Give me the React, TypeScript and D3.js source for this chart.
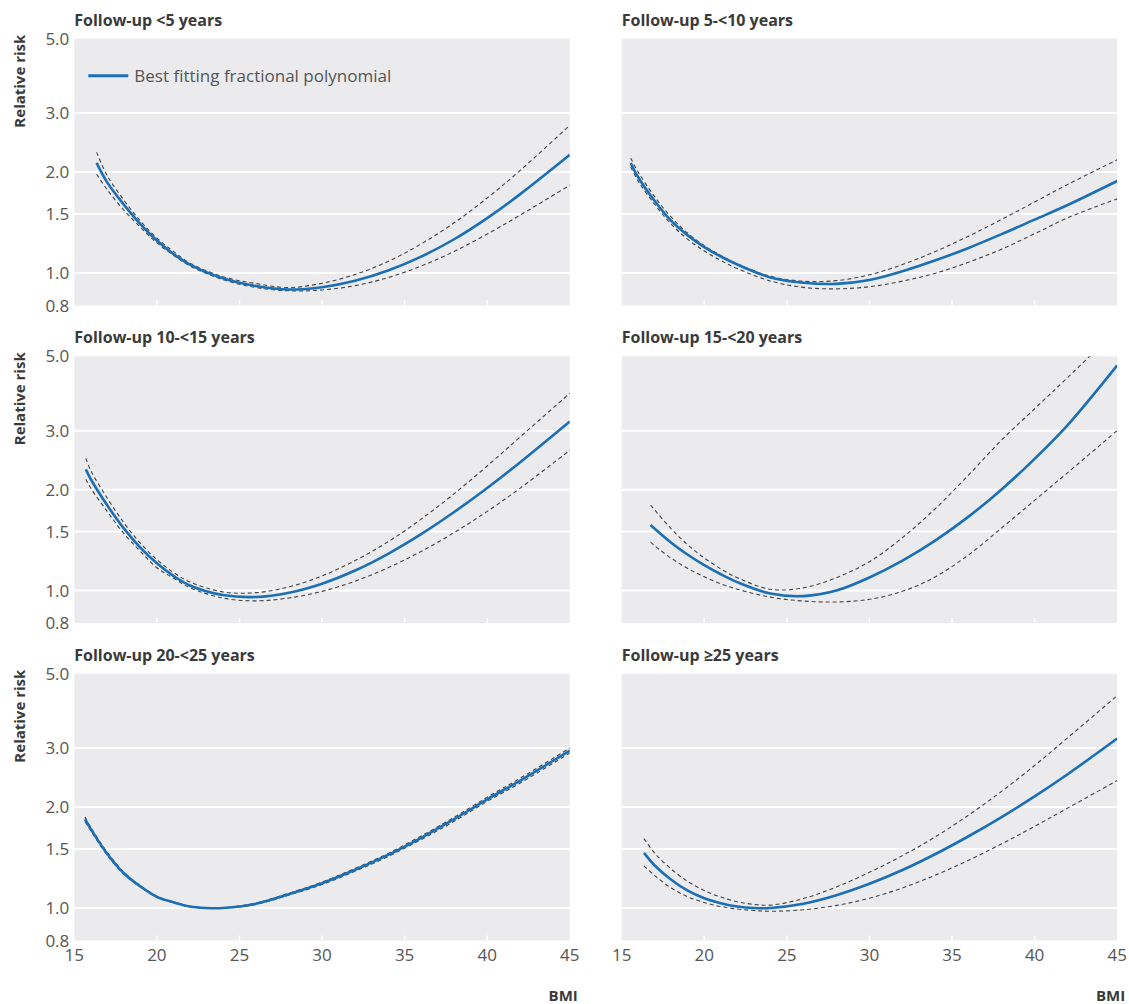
import React from "react";
import * as d3 from "d3";

// BMI grid + relative risk (fit, lower and upper 95% CI) per follow-up panel
const titles = [
  "Follow-up <5 years",
  "Follow-up 5-<10 years",
  "Follow-up 10-<15 years",
  "Follow-up 15-<20 years",
  "Follow-up 20-<25 years",
  "Follow-up ≥25 years",
];

const bmi1 = [16.35, 17, 18, 19, 20, 21, 22, 24, 26, 28, 30, 32, 34, 36, 38, 40, 42, 45];
const fit1 = [2.13, 1.86, 1.6, 1.4, 1.25, 1.14, 1.06, 0.965, 0.915, 0.893, 0.907, 0.948, 1.017, 1.119, 1.261, 1.458, 1.719, 2.252];
const hi1 = [2.29, 1.95, 1.65, 1.43, 1.27, 1.16, 1.07, 0.975, 0.93, 0.905, 0.932, 0.99, 1.083, 1.221, 1.412, 1.674, 2.024, 2.759];
const lo1 = [1.97, 1.77, 1.54, 1.37, 1.23, 1.13, 1.05, 0.955, 0.905, 0.885, 0.89, 0.917, 0.969, 1.049, 1.16, 1.307, 1.489, 1.828];

const bmi2 = [15.55, 16, 17, 18, 19, 20, 21, 22, 24, 26, 28, 30, 32, 34, 36, 38, 40, 42, 45];
const fit2 = [2.13, 1.93, 1.64, 1.43, 1.295, 1.195, 1.12, 1.06, 0.97, 0.935, 0.928, 0.953, 1.012, 1.091, 1.188, 1.306, 1.443, 1.595, 1.881];
const hi2 = [2.2, 2.0, 1.687, 1.467, 1.314, 1.207, 1.128, 1.065, 0.978, 0.945, 0.949, 0.988, 1.06, 1.16, 1.288, 1.445, 1.629, 1.837, 2.177];
const lo2 = [2.07, 1.88, 1.602, 1.399, 1.26, 1.163, 1.09, 1.031, 0.947, 0.906, 0.897, 0.91, 0.946, 0.999, 1.077, 1.178, 1.309, 1.461, 1.664];

const bmi3 = [15.7, 16, 17, 18, 19, 20, 21, 22, 24, 26, 28, 30, 32, 34, 36, 38, 40, 42, 45];
const fit3 = [2.3, 2.149, 1.795, 1.533, 1.343, 1.206, 1.107, 1.036, 0.97, 0.957, 0.986, 1.049, 1.148, 1.288, 1.474, 1.716, 2.024, 2.416, 3.196];
const hi3 = [2.48, 2.28, 1.885, 1.594, 1.385, 1.237, 1.133, 1.061, 0.991, 0.986, 1.026, 1.106, 1.229, 1.399, 1.634, 1.946, 2.354, 2.875, 3.88];
const lo3 = [2.15, 2.02, 1.72, 1.48, 1.31, 1.17, 1.09, 1.02, 0.95, 0.932, 0.951, 0.995, 1.067, 1.17, 1.309, 1.49, 1.723, 2.022, 2.622];

const bmi4 = [16.75, 17, 18, 19, 20, 21, 22, 24, 26, 28, 30, 32, 34, 36, 38, 40, 42, 45];
const fit4 = [1.57, 1.53, 1.39, 1.279, 1.191, 1.119, 1.06, 0.98, 0.963, 1.0, 1.094, 1.228, 1.412, 1.662, 2.004, 2.472, 3.117, 4.697];
const hi4 = [1.8, 1.74, 1.528, 1.369, 1.251, 1.161, 1.093, 1.009, 1.019, 1.093, 1.22, 1.439, 1.758, 2.212, 2.812, 3.487, 4.323, 6.01];
const lo4 = [1.395, 1.36, 1.249, 1.164, 1.099, 1.048, 1.01, 0.956, 0.931, 0.925, 0.942, 0.995, 1.1, 1.278, 1.537, 1.859, 2.248, 3.004];

const bmi5 = [15.65, 16, 17, 18, 19, 20, 21, 22, 23, 24, 26, 28, 30, 32, 34, 36, 38, 40, 42, 45];
const fit5 = [1.84, 1.72, 1.45, 1.27, 1.16, 1.08, 1.04, 1.01, 1.0, 1.0, 1.03, 1.1, 1.185, 1.3, 1.44, 1.62, 1.84, 2.11, 2.4, 2.95];
const hi5 = [1.87, 1.74, 1.465, 1.28, 1.165, 1.085, 1.043, 1.012, 1.001, 1.002, 1.035, 1.107, 1.195, 1.313, 1.455, 1.64, 1.865, 2.14, 2.44, 3.0];
const lo5 = [1.81, 1.7, 1.435, 1.26, 1.155, 1.075, 1.037, 1.008, 0.999, 0.998, 1.025, 1.093, 1.175, 1.287, 1.425, 1.6, 1.815, 2.08, 2.36, 2.9];

const bmi6 = [16.35, 17, 18, 19, 20, 21, 22, 23, 24, 26, 28, 30, 32, 34, 36, 38, 40, 42, 45];
const fit6 = [1.46, 1.339, 1.214, 1.126, 1.069, 1.033, 1.01, 1.0, 1.0, 1.03, 1.092, 1.181, 1.298, 1.449, 1.637, 1.868, 2.153, 2.507, 3.203];
const hi6 = [1.61, 1.458, 1.306, 1.2, 1.127, 1.078, 1.044, 1.025, 1.02, 1.067, 1.156, 1.278, 1.433, 1.632, 1.893, 2.228, 2.662, 3.219, 4.3];
const lo6 = [1.336, 1.249, 1.147, 1.08, 1.038, 1.01, 0.993, 0.983, 0.978, 0.988, 1.018, 1.07, 1.148, 1.254, 1.388, 1.554, 1.752, 1.986, 2.401];

const yTicks = [0.8, 1.0, 1.5, 2.0, 3.0, 5.0];
const gridTicks = [1.0, 1.5, 2.0, 3.0];
const xTicks = [15, 20, 25, 30, 35, 40, 45];

const legendLabel = "Best fitting fractional polynomial";

const panels = [
  { bmi: bmi1, fit: fit1, hi: hi1, lo: lo1 },
  { bmi: bmi2, fit: fit2, hi: hi2, lo: lo2 },
  { bmi: bmi3, fit: fit3, hi: hi3, lo: lo3 },
  { bmi: bmi4, fit: fit4, hi: hi4, lo: lo4 },
  { bmi: bmi5, fit: fit5, hi: hi5, lo: lo5 },
  { bmi: bmi6, fit: fit6, hi: hi6, lo: lo6 },
];

const colX = [74.3, 621.7];
const rowY = [38.7, 356.3, 673.7];
const pw = 495.5;
const ph = 266.8;

const font = "'Open Sans', 'Noto Sans', sans-serif";
const blue = "#1a6fb5";

const x = d3.scaleLinear().domain([15, 45]).range([0, pw]);
const y = d3.scaleLog().domain([0.8, 5]).range([ph, 0]);

const Panel = ({ i }: { i: number }) => {
  const p = panels[i];
  const col = i % 2;
  const row = Math.floor(i / 2);
  const ox = colX[col];
  const oy = rowY[row];
  const line = (vals: number[]) =>
    d3
      .line<number>()
      .x((_, k) => x(p.bmi[k]))
      .y((v) => y(v))
      .curve(d3.curveCatmullRom.alpha(0.5))(vals) || "";
  const clipId = `clip${i}`;
  return (
    <g transform={`translate(${ox},${oy})`}>
      <text x={0} y={-13} fontFamily={font} fontWeight="bold" fontSize={16} fill="#3a3a3a">
        {titles[i]}
      </text>
      <defs>
        <clipPath id={clipId}>
          <rect x={0} y={0} width={pw} height={ph} />
        </clipPath>
      </defs>
      <rect x={0} y={0} width={pw} height={ph} fill="#ebebee" />
      {gridTicks.map((t) => (
        <line key={t} x1={0} x2={pw} y1={y(t)} y2={y(t)} stroke="#fff" strokeWidth={2} />
      ))}
      {xTicks.slice(1, -1).map((t) => (
        <line key={t} x1={x(t)} x2={x(t)} y1={ph} y2={ph - 5} stroke="#fff" strokeWidth={1.5} />
      ))}
      <g clipPath={`url(#${clipId})`}>
        {[p.hi, p.lo].map((vals, k) => (
          <path key={k} d={line(vals)} fill="none" stroke="#444" strokeWidth={1.1} strokeDasharray="4,3" />
        ))}
        <path d={line(p.fit)} fill="none" stroke={blue} strokeWidth={2.6} />
      </g>
      {col === 0 &&
        yTicks.map((t) => (
          <text key={t} x={-5} y={y(t)} dy="0.36em" textAnchor="end" fontFamily={font} fontSize={17} fill="#555">
            {t.toFixed(1)}
          </text>
        ))}
      {col === 0 && (
        <text
          transform={`translate(-55,-4) rotate(-90)`}
          dy="0.36em"
          textAnchor="end"
          fontFamily={font}
          fontWeight="bold"
          fontSize={15}
          fill="#3a3a3a"
        >
          Relative risk
        </text>
      )}
      {row === 2 &&
        xTicks.map((t) => (
          <text key={t} x={x(t)} y={ph + 21} textAnchor="middle" fontFamily={font} fontSize={17} fill="#555">
            {t}
          </text>
        ))}
      {row === 2 && (
        <text x={pw + 8} y={ph + 61} textAnchor="end" fontFamily={font} fontWeight="bold" fontSize={15} fill="#3a3a3a">
          BMI
        </text>
      )}
      {i === 0 && (
        <g>
          <line x1={14} x2={54} y1={37} y2={37} stroke={blue} strokeWidth={3} />
          <text x={60} y={37} dy="0.36em" fontFamily={font} fontSize={17} fill="#555">
            {legendLabel}
          </text>
        </g>
      )}
    </g>
  );
};

export default function App() {
  return (
    <svg
      width={1129}
      height={1004}
      style={{ position: "absolute", left: 0, top: 0, background: "#fff" }}
    >
      {panels.map((_, i) => (
        <Panel key={i} i={i} />
      ))}
    </svg>
  );
}
